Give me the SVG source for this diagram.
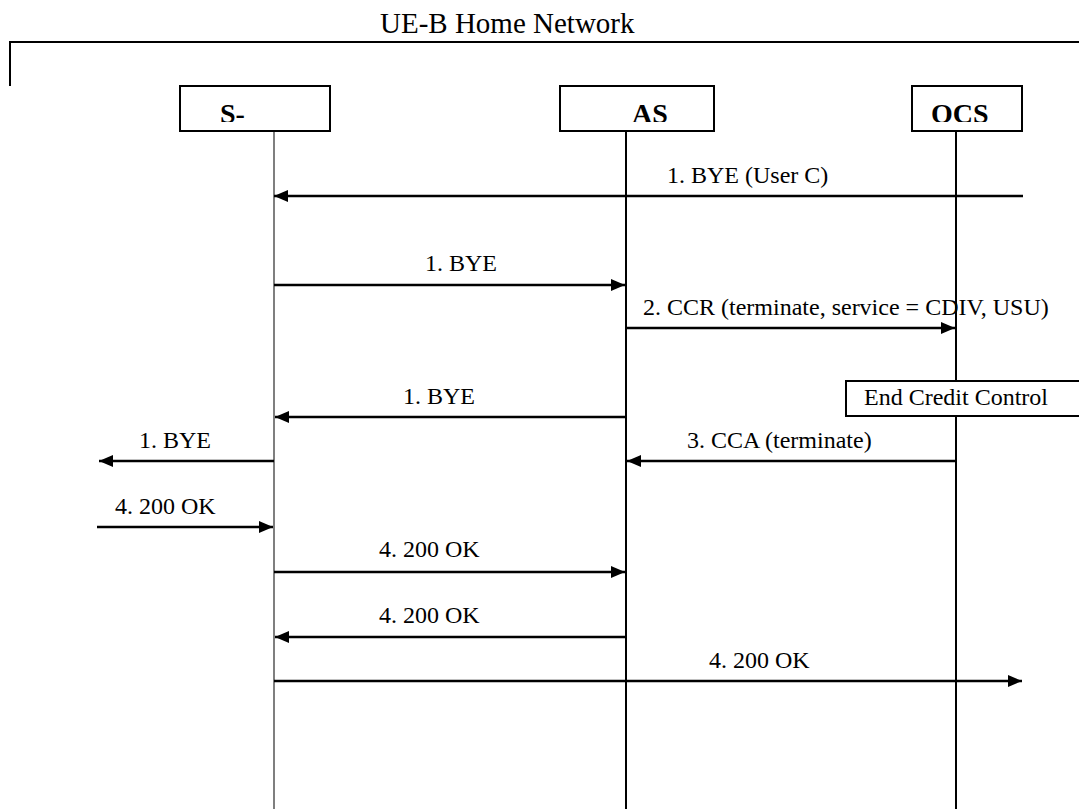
<svg xmlns="http://www.w3.org/2000/svg" width="1079" height="809" viewBox="0 0 1079 809">
<style>
text{font-family:'Liberation Serif','Times New Roman',Times,'DejaVu Serif',serif}
.lbl{font-size:24px;fill:#000}
.title{font-size:29px;fill:#000}
.bold{font-size:28px;font-weight:bold;fill:#000}
.box{fill:#fff;stroke:#000;stroke-width:2}
.life{stroke:#000;stroke-width:2;fill:none}
.msg{stroke:#000;stroke-width:2.5;fill:none;marker-end:url(#ah)}
</style>
<defs>
<marker id="ah" viewBox="0 0 14 12" refX="14" refY="6" markerWidth="14" markerHeight="12" markerUnits="userSpaceOnUse" orient="auto">
<path d="M0,0 L14,6 L0,12 Z" fill="#000"/>
</marker>
<clipPath id="clipS"><rect x="181" y="87" width="148" height="35"/></clipPath>
<clipPath id="clipAS"><rect x="561" y="87" width="152" height="35"/></clipPath>
<clipPath id="clipOCS"><rect x="913" y="87" width="108" height="35"/></clipPath>
</defs>
<rect width="1079" height="809" fill="#fff"/>
<g id="frame">
<path d="M10,86 L10,42 L1079,42" stroke="#000" stroke-width="2" fill="none"/>
<text class="title" x="380" y="33">UE-B Home Network</text>
</g>
<g id="lifelines">
<line x1="274" y1="131" x2="274" y2="809" stroke="#555" stroke-width="1.5"/>
<line class="life" x1="626" y1="131" x2="626" y2="809"/>
<line class="life" x1="956" y1="131" x2="956" y2="809"/>
</g>
<g id="node-s">
<rect class="box" x="180" y="86" width="150" height="45"/>
<text class="bold" x="220" y="123" clip-path="url(#clipS)">S-</text>
</g>
<g id="node-as">
<rect class="box" x="560" y="86" width="154" height="45"/>
<text class="bold" x="632" y="123" clip-path="url(#clipAS)">AS</text>
</g>
<g id="node-ocs">
<rect class="box" x="912" y="86" width="110" height="45"/>
<text class="bold" x="931" y="123" clip-path="url(#clipOCS)">OCS</text>
</g>
<g id="node-ecc">
<rect class="box" x="846" y="381" width="240" height="35"/>
<text class="lbl" x="864" y="405">End Credit Control</text>
</g>
<g id="connectors">
<line class="msg" x1="1023" y1="196" x2="274" y2="196"/>
<line class="msg" x1="274" y1="285" x2="625" y2="285"/>
<line class="msg" x1="626" y1="328" x2="955" y2="328"/>
<line class="msg" x1="626" y1="417" x2="275" y2="417"/>
<line class="msg" x1="956" y1="461" x2="627" y2="461"/>
<line class="msg" x1="274" y1="461" x2="99" y2="461"/>
<line class="msg" x1="97" y1="527" x2="273" y2="527"/>
<line class="msg" x1="274" y1="572" x2="625" y2="572"/>
<line class="msg" x1="626" y1="637" x2="275" y2="637"/>
<line class="msg" x1="274" y1="681" x2="1022" y2="681"/>
</g>
<g id="labels">
<text class="lbl" x="667" y="183">1. BYE (User C)</text>
<text class="lbl" x="425" y="271">1. BYE</text>
<text class="lbl" x="643" y="315">2. CCR (terminate, service = CDIV, USU)</text>
<text class="lbl" x="403" y="404">1. BYE</text>
<text class="lbl" x="687" y="448">3. CCA (terminate)</text>
<text class="lbl" x="139" y="448">1. BYE</text>
<text class="lbl" x="115" y="514">4. 200 OK</text>
<text class="lbl" x="379" y="557">4. 200 OK</text>
<text class="lbl" x="379" y="623">4. 200 OK</text>
<text class="lbl" x="709" y="668">4. 200 OK</text>
</g>
</svg>
